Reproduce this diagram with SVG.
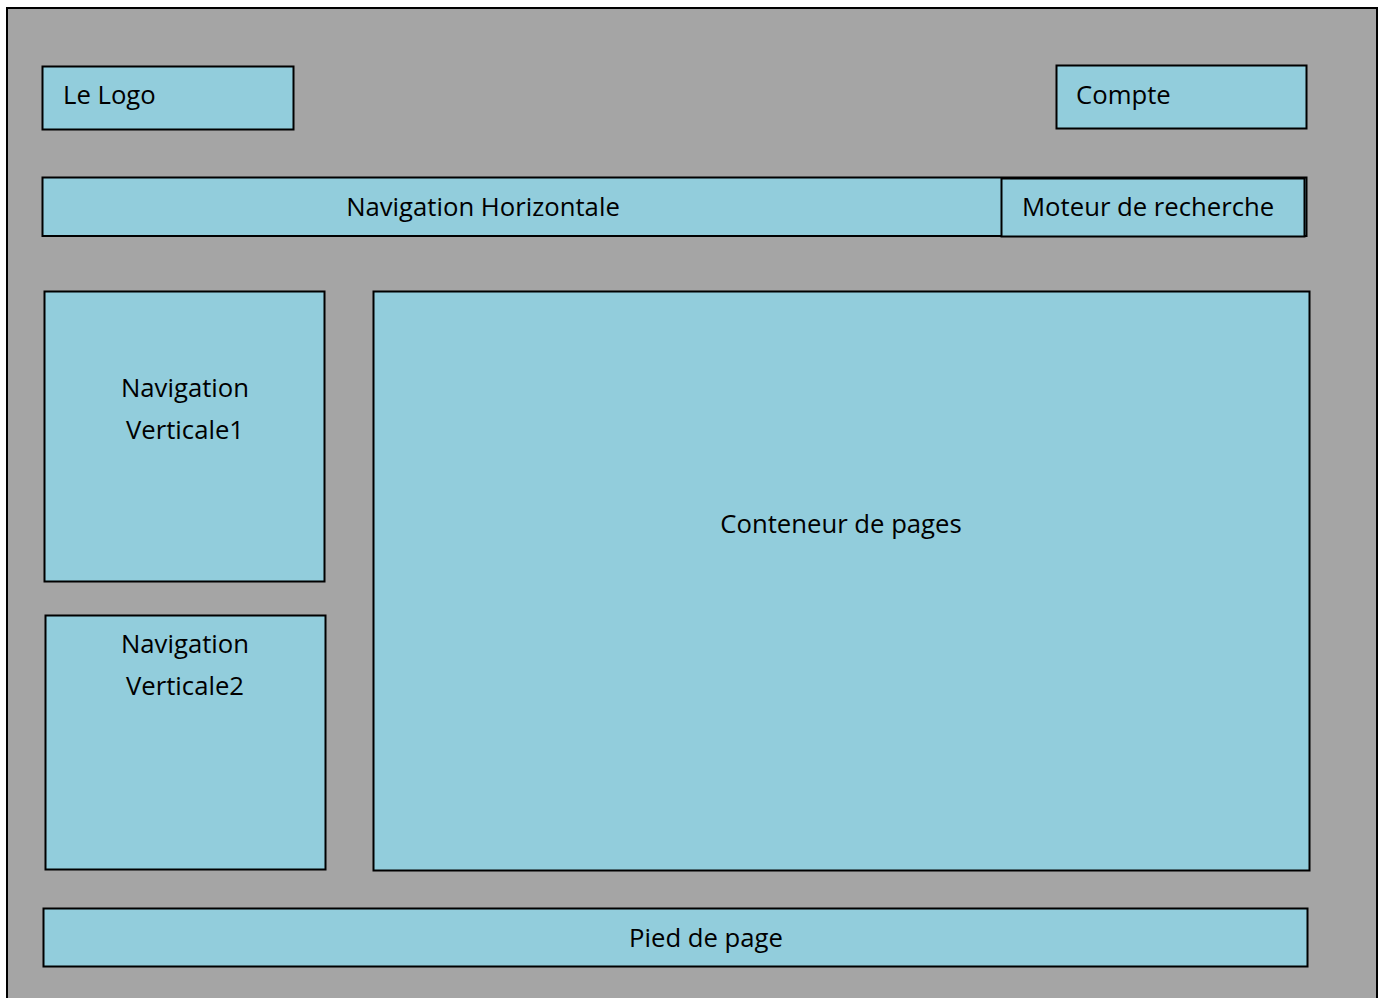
<svg xmlns="http://www.w3.org/2000/svg" width="1384" height="998" viewBox="0 0 1384 998">
<style>
.box{fill:#92CDDC;stroke:#000;stroke-width:2}
.t{font-family:"Open Sans","Liberation Sans",sans-serif;font-size:25.7px;fill:#000}
.c{text-anchor:middle}
</style>
<rect width="1384" height="998" fill="#ffffff"/>
<rect id="page" x="7" y="8" width="1370" height="1000" fill="#A5A5A5" stroke="#000" stroke-width="2"/>
<g id="logo"><rect class="box" x="42.5" y="66.5" width="251" height="63"/><text class="t" x="63" y="104">Le Logo</text></g>
<g id="compte"><rect class="box" x="1056.5" y="65.5" width="250" height="63"/><text class="t" x="1076" y="104">Compte</text></g>
<g id="navh"><rect class="box" x="42.5" y="177.5" width="1264" height="58.5"/><text class="t c" x="483" y="216">Navigation Horizontale</text></g>
<g id="moteur"><rect class="box" x="1001.5" y="178.5" width="303" height="58"/><text class="t" x="1022" y="216">Moteur de recherche</text></g>
<g id="navv1"><rect class="box" x="44.5" y="291.5" width="280" height="290"/><text class="t c" x="185" y="397">Navigation</text><text class="t c" x="185" y="439">Verticale1</text></g>
<g id="navv2"><rect class="box" x="45.5" y="615.5" width="280" height="254"/><text class="t c" x="185" y="653">Navigation</text><text class="t c" x="185" y="695">Verticale2</text></g>
<g id="contenu"><rect class="box" x="373.5" y="291.5" width="936" height="579"/><text class="t c" x="841" y="533">Conteneur de pages</text></g>
<g id="pied"><rect class="box" x="43.5" y="908.5" width="1264" height="58"/><text class="t c" x="706" y="947">Pied de page</text></g>
<g id="connectors"></g>
</svg>
